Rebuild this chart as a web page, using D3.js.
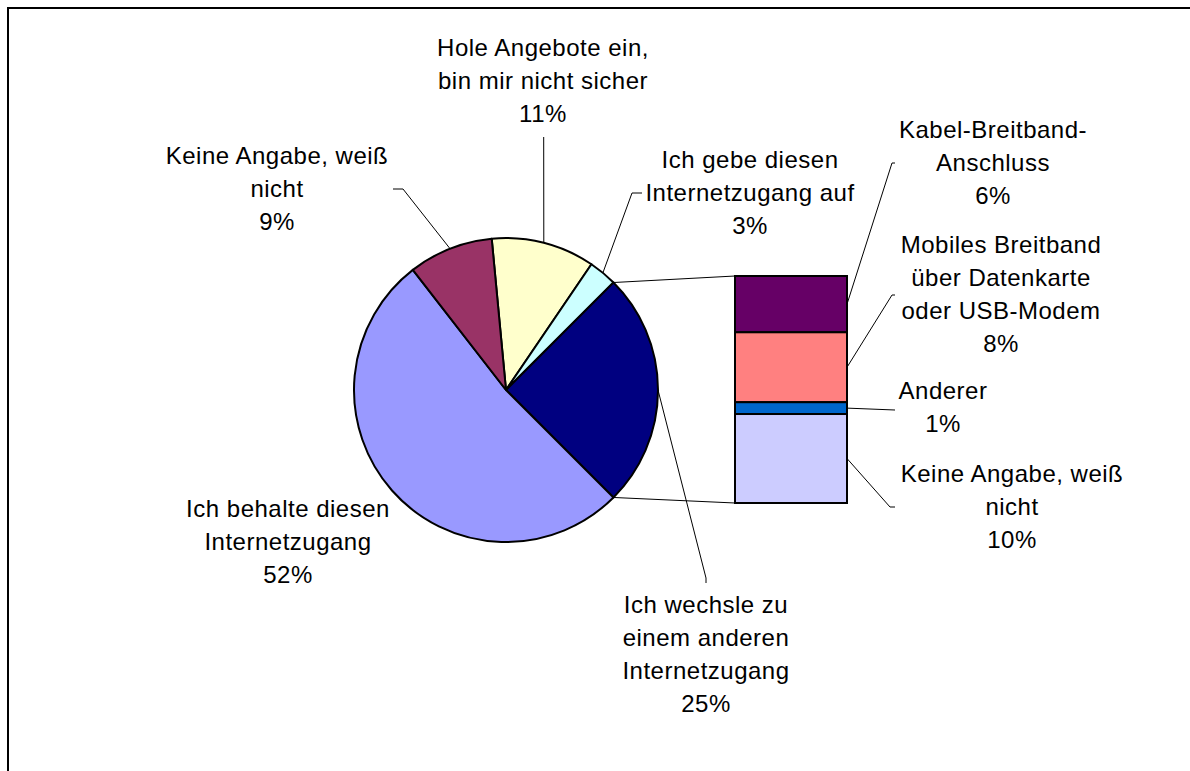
<!DOCTYPE html>
<html>
<head>
<meta charset="utf-8">
<script src="https://cdn.jsdelivr.net/npm/d3@7"></script>
<style>
  body { margin: 0; background: #fff; }
  svg text { font-family: "Liberation Sans", Arial, sans-serif; font-size: 24px; letter-spacing: 0.5px; fill: #000; }
</style>
</head>
<body>
<svg width="1190" height="771"></svg>
<script>
// pie slices, clockwise from the top
var pieNames = [
    ["Hole Angebote ein,", "bin mir nicht sicher"],
    ["Ich gebe diesen", "Internetzugang auf"],
    ["Ich wechsle zu", "einem anderen", "Internetzugang"],
    ["Ich behalte diesen", "Internetzugang"],
    ["Keine Angabe, weiß", "nicht"]
];
var pieValues = [11, 3, 25, 52, 9];
var pieColors = ["#FFFFCC", "#CCFFFF", "#000080", "#9999FF", "#993366"];
var splitIndex = 2; // slice broken out into the bar

// bar segments, top to bottom
var barNames = [
    ["Kabel-Breitband-", "Anschluss"],
    ["Mobiles Breitband", "über Datenkarte", "oder USB-Modem"],
    ["Anderer"],
    ["Keine Angabe, weiß", "nicht"]
];
var barValues = [6.2, 7.7, 1.3, 9.8];
var barLabels = ["6%", "8%", "1%", "10%"];
var barColors = ["#660066", "#FF8080", "#0066CC", "#CCCCFF"];

var svg = d3.select("svg"),
    cx = 506, cy = 390, radius = 152,
    bar = {x: 735, width: 112, top: 276, bottom: 503},
    lineHeight = 33;

// label layout: text centre x, first baseline y, leader elbow/end
var pieLayout = [
    {x: 543, y: 56, leader: [[543.7, 137]]},
    {x: 750, y: 168, leader: [[632, 193], [642, 193]]},
    {x: 706, y: 613, leader: [[706, 578], [706, 583]]},
    {x: 288, y: 517, leader: null},
    {x: 277, y: 164, leader: [[403, 189], [393, 189]]}
];
var barLayout = [
    {x: 993, y: 138, leader: [[892, 163], [895, 163]]},
    {x: 1001, y: 253, leader: [[892, 295], [895, 295]]},
    {x: 943, y: 399, leader: [[895, 410]]},
    {x: 1012, y: 482, leader: [[890, 507], [895, 507]]}
];

svg.append("rect")
    .attr("x", 8).attr("y", 8)
    .attr("width", 1250).attr("height", 850)
    .attr("fill", "#fff")
    .attr("stroke", "#000")
    .attr("stroke-width", 2);

var pie = d3.pie().sort(null).startAngle(-5.4 * Math.PI / 180).endAngle(2 * Math.PI - 5.4 * Math.PI / 180);
var arcs = pie(pieValues);
var arc = d3.arc().innerRadius(0).outerRadius(radius);

function edgePoint(a) {
    return [cx + radius * Math.sin(a), cy - radius * Math.cos(a)];
}

var g = svg.append("g").attr("transform", "translate(" + cx + "," + cy + ")");
g.selectAll("path")
    .data(arcs)
    .enter().append("path")
    .attr("d", arc)
    .attr("fill", function(d, i) { return pieColors[i]; })
    .attr("stroke", "#000")
    .attr("stroke-width", 2)
    .attr("stroke-linejoin", "round");

// bar of the broken-out slice
var y = d3.scaleLinear().domain([0, d3.sum(barValues)]).range([bar.top, bar.bottom]);
var cum = [0];
barValues.forEach(function(v, i) { cum.push(cum[i] + v); });

svg.selectAll("rect.seg")
    .data(barValues)
    .enter().append("rect")
    .attr("class", "seg")
    .attr("x", bar.x)
    .attr("y", function(d, i) { return y(cum[i]); })
    .attr("width", bar.width)
    .attr("height", function(d, i) { return y(cum[i + 1]) - y(cum[i]); })
    .attr("fill", function(d, i) { return barColors[i]; })
    .attr("stroke", "#000")
    .attr("stroke-width", 2);

// connector lines pie -> bar
var split = arcs[splitIndex];
var p1 = edgePoint(split.startAngle), p2 = edgePoint(split.endAngle);
svg.append("line").attr("x1", p1[0]).attr("y1", p1[1]).attr("x2", bar.x).attr("y2", bar.top)
    .attr("stroke", "#000").attr("stroke-width", 1);
svg.append("line").attr("x1", p2[0]).attr("y1", p2[1]).attr("x2", bar.x).attr("y2", bar.bottom)
    .attr("stroke", "#000").attr("stroke-width", 1);

var leaderLine = d3.line();

function drawLabel(lines, pct, lay, start) {
    if (lay.leader) {
        svg.append("path")
            .attr("d", leaderLine([start].concat(lay.leader)))
            .attr("fill", "none")
            .attr("stroke", "#000")
            .attr("stroke-width", 1);
    }
    var t = svg.append("text").attr("text-anchor", "middle");
    lines.concat([pct]).forEach(function(s, k) {
        t.append("tspan").attr("x", lay.x).attr("y", lay.y + k * lineHeight).text(s);
    });
}

arcs.forEach(function(d, i) {
    var mid = (d.startAngle + d.endAngle) / 2;
    drawLabel(pieNames[i], d3.format(".0f")(d.value) + "%", pieLayout[i], edgePoint(mid));
});

barValues.forEach(function(v, i) {
    var ym = (y(cum[i]) + y(cum[i + 1])) / 2;
    drawLabel(barNames[i], barLabels[i], barLayout[i], [bar.x + bar.width, ym]);
});
</script>
</body>
</html>
